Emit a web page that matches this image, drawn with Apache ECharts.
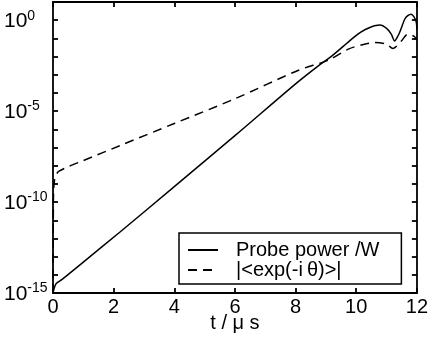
<!DOCTYPE html>
<html>
<head>
<meta charset="utf-8">
<script src="https://cdn.jsdelivr.net/npm/echarts@6/dist/echarts.min.js"></script>
<style>
html,body{margin:0;padding:0;background:#fff;}
#c{width:431px;height:348px;}
</style>
</head>
<body>
<div id="c"></div>
<script>
// time in microseconds, values given as log10 exponents
var probeT   = [0, 0.03, 0.08, 0.15, 0.3, 1, 2.2, 4, 6, 8, 8.75, 9.2, 9.85, 10.15, 10.45, 10.78, 11.0, 11.15, 11.27, 11.35, 11.43, 11.6, 11.7, 11.81, 11.9, 11.98, 12];
var probeExp = [-15, -14.8, -14.55, -14.42, -14.25, -13.3, -11.66, -9.15, -6.35, -3.5, -2.51, -1.96, -1.04, -0.65, -0.4, -0.27, -0.45, -0.75, -1.14, -0.95, -0.68, 0.05, 0.25, 0.33, 0.2, -0.1, -0.5];
var phaseT   = [0, 0.01, 0.02, 0.05, 0.1, 0.2, 0.5, 1, 2.2, 4, 6, 8.1, 9.08, 9.74, 10.2, 10.61, 11.0, 11.21, 11.49, 11.7, 11.92, 12];
var phaseExp = [-15, -11, -9.4, -8.8, -8.5, -8.3, -8.06, -7.72, -6.9, -5.68, -4.32, -2.75, -2.2, -1.59, -1.35, -1.23, -1.32, -1.55, -1.14, -0.77, -0.9, -1.1];
var xTicks = [0, 2, 4, 6, 8, 10, 12];
var yLabelExps = [-15, -10, -5, 0];
var seriesNames = ['Probe power /W', '|<exp(-i\u2009\u03b8)>|'];

function pairs(t, e) {
  var out = [];
  for (var i = 0; i < t.length; i++) out.push([t[i], Math.pow(10, e[i])]);
  return out;
}

var FONT = '"Liberation Sans", Arial, Helvetica, sans-serif';
var chart = echarts.init(document.getElementById('c'), null, {renderer: 'canvas'});

var yLabelFmt = function (v) {
  var e = Math.round(Math.log10(v));
  if (yLabelExps.indexOf(e) < 0) return '';
  return '{b|10}{s|' + e + '}';
};

var axisLineStyle = {color: '#000', width: 1.8};

chart.setOption({
  animation: false,
  backgroundColor: '#fff',
  grid: {left: 53, right: 13, top: 2, bottom: 55, containLabel: false},
  legend: {
    orient: 'vertical',
    left: 179,
    top: 233,
    padding: [7, 22, 4, 8],
    itemGap: 0,
    itemWidth: 30,
    itemHeight: 14,
    borderColor: '#000',
    borderWidth: 1.5,
    backgroundColor: '#fff',
    itemStyle: {color: 'rgba(0,0,0,0)', borderColor: 'rgba(0,0,0,0)', borderWidth: 0},
    textStyle: {fontFamily: FONT, fontSize: 20, color: '#000', lineHeight: 20, padding: [0, 0, 0, 13]},
    data: seriesNames
  },
  xAxis: [{
    type: 'value', min: 0, max: 12, interval: 2, position: 'bottom',
    name: 't / \u03bc s', nameLocation: 'middle', nameGap: 20, nameMoveOverlap: false,
    nameTextStyle: {fontFamily: FONT, fontSize: 20, color: '#000'},
    axisLine: {show: true, onZero: false, lineStyle: axisLineStyle},
    axisTick: {show: true, inside: true, length: 5, lineStyle: axisLineStyle},
    axisLabel: {show: true, margin: 4, fontFamily: FONT, fontSize: 20, color: '#000',
      formatter: function (v) { return xTicks.indexOf(v) >= 0 ? String(v) : ''; }},
    splitLine: {show: false}
  }, {
    type: 'value', min: 0, max: 12, interval: 2, position: 'top',
    axisLine: {show: true, onZero: false, lineStyle: axisLineStyle},
    axisTick: {show: true, inside: true, length: 5, lineStyle: axisLineStyle},
    axisLabel: {show: false},
    splitLine: {show: false}
  }],
  yAxis: [{
    type: 'log', logBase: 10, min: 1e-15, max: 10, interval: 1, position: 'left',
    axisLine: {show: true, onZero: false, lineStyle: axisLineStyle},
    axisTick: {show: true, inside: true, length: 5, lineStyle: axisLineStyle},
    axisLabel: {show: true, align: 'left', margin: 49, formatter: yLabelFmt,
      rich: {
        b: {fontFamily: FONT, fontSize: 21, color: '#000', lineHeight: 23, verticalAlign: 'bottom'},
        s: {fontFamily: FONT, fontSize: 14, color: '#000', lineHeight: 14, verticalAlign: 'top'}
      }},
    splitLine: {show: false}
  }, {
    type: 'log', logBase: 10, min: 1e-15, max: 10, interval: 1, position: 'right',
    axisLine: {show: true, onZero: false, lineStyle: axisLineStyle},
    axisTick: {show: true, inside: true, length: 5, lineStyle: axisLineStyle},
    axisLabel: {show: false},
    splitLine: {show: false}
  }],
  series: [{
    name: seriesNames[0], type: 'line', xAxisIndex: 0, yAxisIndex: 0,
    data: pairs(probeT, probeExp), smooth: 0.3, symbol: 'none', showSymbol: false,
    lineStyle: {color: '#000', width: 1.5, type: 'solid'},
    itemStyle: {color: '#000'}
  }, {
    name: seriesNames[1], type: 'line', xAxisIndex: 0, yAxisIndex: 0,
    data: pairs(phaseT, phaseExp), smooth: 0.3, symbol: 'none', showSymbol: false,
    lineStyle: {color: '#000', width: 1.5, type: [9, 6]},
    itemStyle: {color: '#000'}
  }]
});
</script>
</body>
</html>
